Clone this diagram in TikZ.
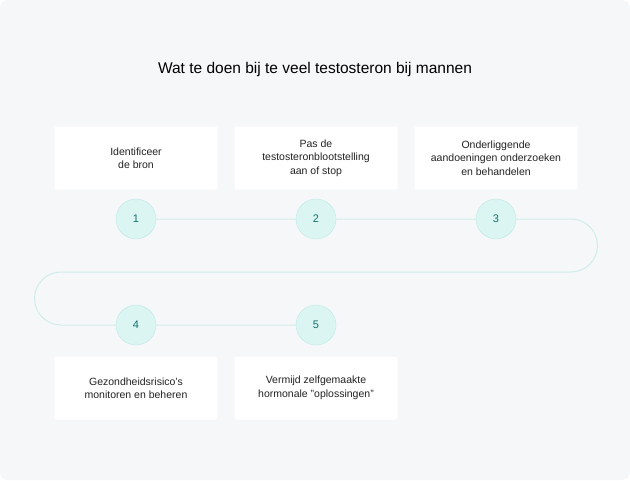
\documentclass[tikz,border=0pt]{standalone}
\usepackage{fontspec}
\setmainfont{Liberation Sans}
\usetikzlibrary{positioning}
\definecolor{pagebg}{HTML}{F6F7F9}
\definecolor{stepfill}{HTML}{DBF5F3}
\definecolor{stepline}{HTML}{BFEAE5}
\definecolor{steptext}{HTML}{14706A}
\definecolor{pathline}{HTML}{D0ECE9}
\definecolor{bodytext}{HTML}{222222}
\begin{document}
\begin{tikzpicture}
[x=1pt, y=-1pt,
card/.style={rectangle, fill=white, rounded corners=2pt, minimum width=163pt, minimum height=63pt, align=center, font=\fontsize{10.5}{13.5}\selectfont, text=bodytext},
stepdot/.style={circle, draw=stepline, fill=stepfill, minimum size=40pt, inner sep=0pt, font=\fontsize{11}{13}\selectfont, text=steptext}]

\fill[pagebg, rounded corners=8pt] (0,0) rectangle (630,480);
\node[font=\fontsize{15.5}{18}\selectfont, text=black] (title) at (315,69) {Wat te doen bij te veel testosteron bij mannen};

% upper row
\node[card] (card1) at (136,158) {Identificeer\\de bron};
\node[card] (card2) at (316,158) {Pas de\\testosteronblootstelling\\aan of stop};
\node[card] (card3) at (496,158) {Onderliggende\\aandoeningen onderzoeken\\en behandelen};
% lower row
\node[card] (card4) at (136,388) {Gezondheidsrisico's\\monitoren en beheren};
\node[card] (card5) at (316,388) {Vermijd zelfgemaakte\\hormonale "oplossingen"};

% path behind the steps
\draw[pathline, line width=1pt]
  (136,219) -- (571,219) arc[start angle=-90, end angle=90, radius=26.5]
  -- (61,272) arc[start angle=-90, end angle=-270, radius=26.5] -- (316,325);

\node[stepdot] (step1) at (136,219) {1};
\node[stepdot] (step2) at (316,219) {2};
\node[stepdot] (step3) at (496,219) {3};
\node[stepdot] (step4) at (136,325) {4};
\node[stepdot] (step5) at (316,325) {5};
\end{tikzpicture}
\end{document}
